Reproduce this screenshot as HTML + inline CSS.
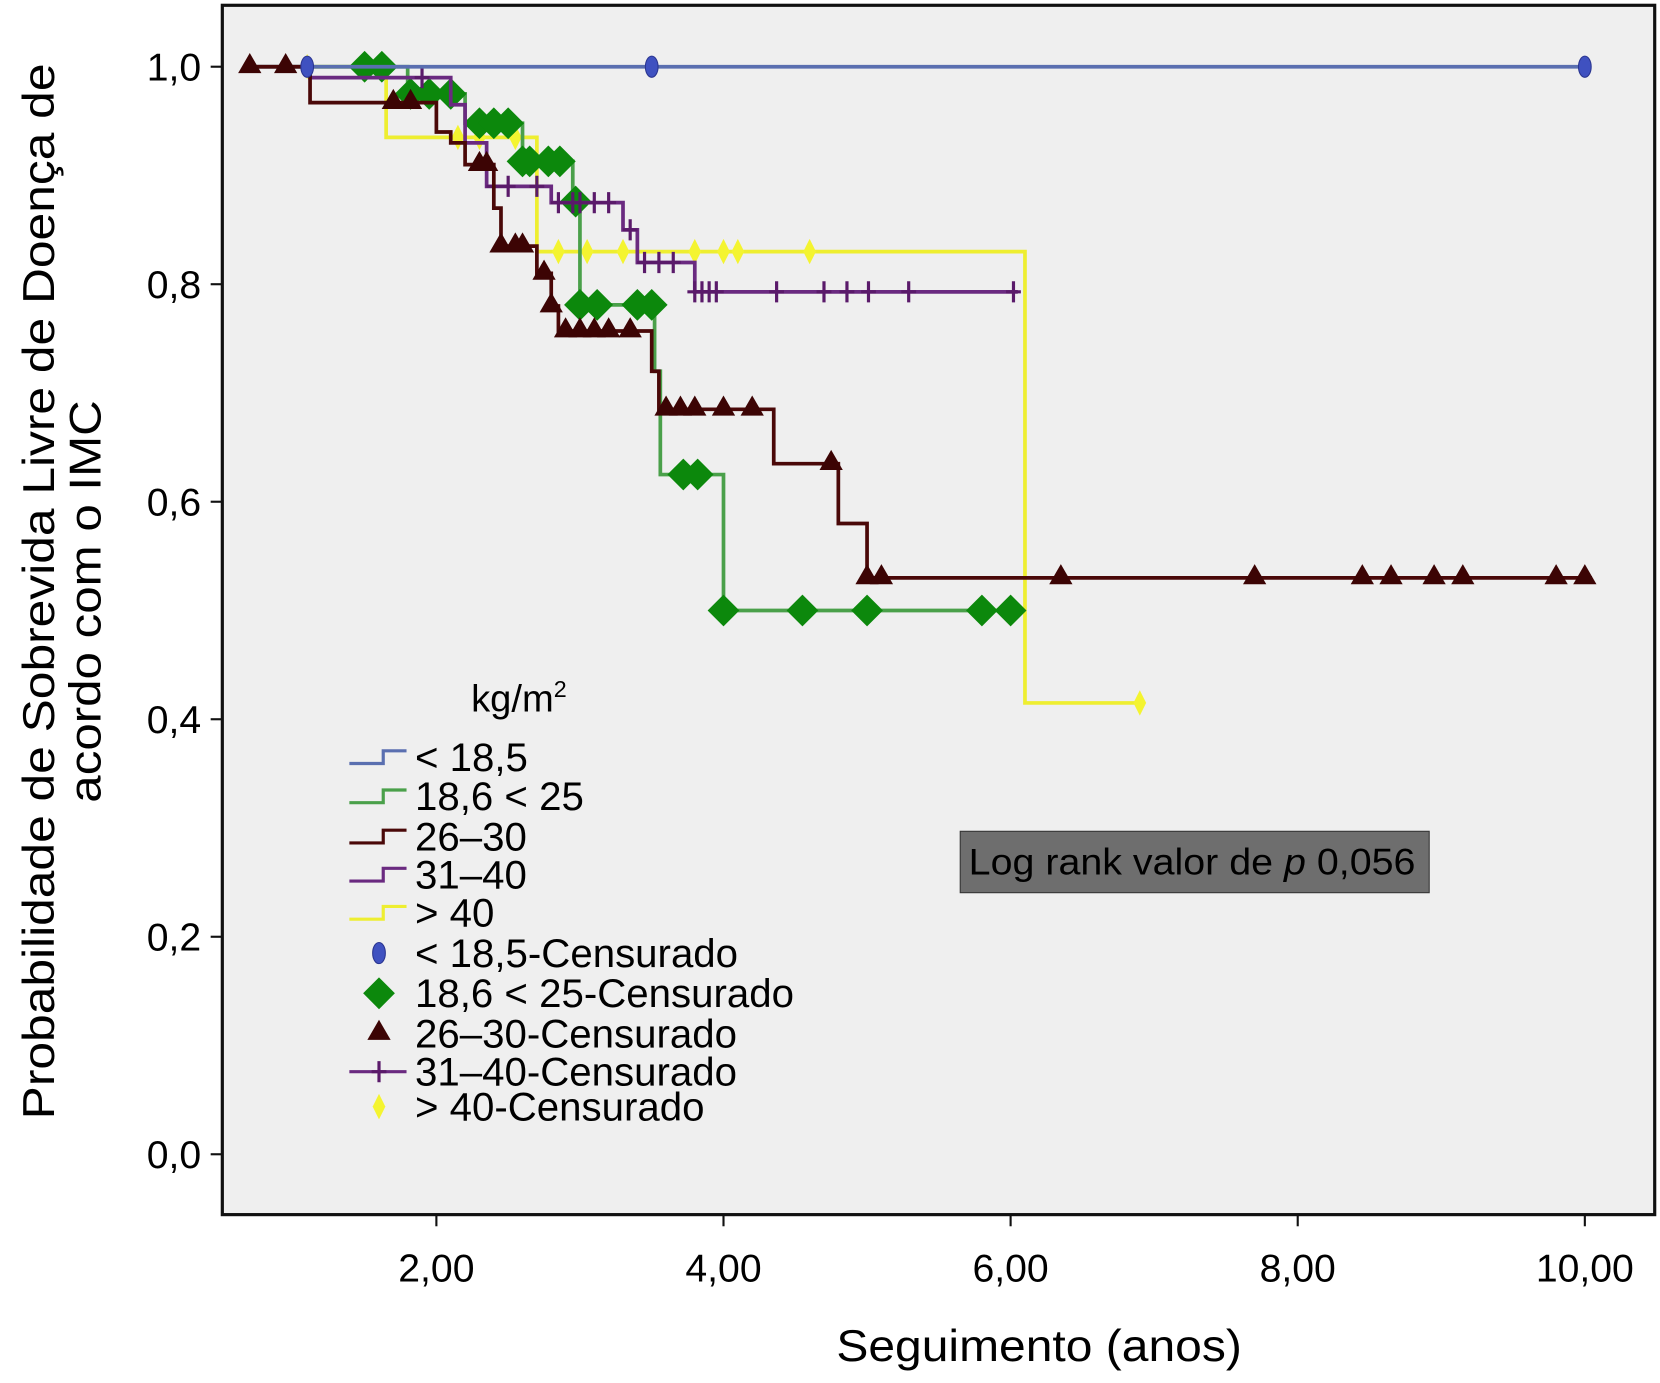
<!DOCTYPE html>
<html><head><meta charset="utf-8">
<style>html,body{margin:0;padding:0;background:#fff}svg{display:block}text{font-family:"Liberation Sans",sans-serif}</style>
</head><body>
<svg id="chart" width="1660" height="1383" viewBox="0 0 1568 1306" preserveAspectRatio="none" xmlns="http://www.w3.org/2000/svg">
<rect x="0" y="0" width="1568" height="1306" fill="#fff"/>
<rect x="210" y="5" width="1353" height="1142" fill="#efefef" stroke="#111" stroke-width="3"/>
<g id="axes"></g>
<g id="series"></g>
<text x="790" y="1285" font-size="42" textLength="383" lengthAdjust="spacingAndGlyphs">Seguimento (anos)</text>
<text transform="translate(40,1057) rotate(-90)" font-size="42" dominant-baseline="middle" textLength="997" lengthAdjust="spacingAndGlyphs">Probabilidade de Sobrevida Livre de Doença de</text>
<text transform="translate(84,758) rotate(-90)" font-size="42" dominant-baseline="middle" textLength="380" lengthAdjust="spacingAndGlyphs">acordo com o IMC</text>
<g>
<rect x="907" y="785" width="443" height="58" fill="#6e6e6e" stroke="#333"/>
<text x="915" y="826" font-size="35" textLength="422" lengthAdjust="spacingAndGlyphs">Log rank valor de <tspan font-style="italic">p</tspan> 0,056</text>
</g>
<g id="legend"></g>
</svg>
<script>
const xTicks=[2,4,6,8,10];
const xTickLabels=["2,00","4,00","6,00","8,00","10,00"];
const yTicks=[0,0.2,0.4,0.6,0.8,1.0];
const yTickLabels=["0,0","0,2","0,4","0,6","0,8","1,0"];
const seriesNames=["< 18,5","18,6 < 25","26–30","31–40","> 40"];
// step events: times and survival after each step
const blueT=[1.1,10.0];const blueS=[1.0,1.0];
const blueCens=[1.1,3.5,10.0];
const greenT=[0.75,1.8,2.2,2.6,2.95,3.0,3.52,3.56,4.0,6.0];
const greenS=[1.0,0.975,0.948,0.913,0.876,0.781,0.72,0.625,0.5,0.5];
const greenCens=[1.5,1.62,1.82,1.95,2.1,2.3,2.4,2.5,2.6,2.65,2.78,2.86,2.97,3.0,3.12,3.4,3.5,3.72,3.82,4.0,4.55,5.0,5.8,6.0];
const redT=[0.7,1.12,2.0,2.1,2.2,2.4,2.45,2.7,2.8,2.85,3.5,3.55,4.35,4.8,5.0,10.05];
const redS=[1.0,0.967,0.94,0.93,0.91,0.87,0.835,0.81,0.78,0.757,0.72,0.685,0.635,0.58,0.53,0.53];
const redCens=[0.7,0.95,1.7,1.82,2.3,2.35,2.45,2.55,2.6,2.75,2.8,2.9,3.0,3.1,3.2,3.35,3.6,3.7,3.8,4.0,4.2,4.75,5.0,5.1,6.35,7.7,8.45,8.65,8.95,9.15,9.8,10.0];
const purpleT=[0.7,1.12,2.1,2.2,2.35,2.8,3.3,3.4,3.8,6.05];
const purpleS=[1.0,0.99,0.965,0.93,0.89,0.875,0.85,0.82,0.793,0.793];
const purpleCens=[1.9,2.4,2.5,2.7,2.85,2.95,3.0,3.1,3.2,3.35,3.45,3.55,3.65,3.8,3.85,3.9,3.95,4.37,4.7,4.86,5.01,5.29,6.02];
const yellowT=[1.1,1.65,2.7,6.1,6.9];
const yellowS=[1.0,0.935,0.83,0.415,0.415];
const yellowCens=[1.1,2.15,2.3,2.55,2.85,3.05,3.3,3.8,4.0,4.1,4.6,6.9];

const NS="http://www.w3.org/2000/svg";
const X=t=>141+135.6*t;
const Y=v=>1090-1027*v;
function mk(tag,attrs,parent){const e=document.createElementNS(NS,tag);for(const k in attrs)e.setAttribute(k,attrs[k]);parent.appendChild(e);return e;}
const axes=document.getElementById('axes');
xTicks.forEach((t,i)=>{
 const l=mk('line',{x1:X(t),x2:X(t),y1:1147,y2:1158,stroke:'#111','stroke-width':2},axes);
 
 
 const tx=mk('text',{x:X(t),y:1210,'font-size':37,'text-anchor':'middle'},axes);tx.textContent=xTickLabels[i];
 
 
});
yTicks.forEach((v,i)=>{
 const l=mk('line',{x1:199,x2:210,y1:Y(v),y2:Y(v),stroke:'#111','stroke-width':2},axes);
 
 
 const tx=mk('text',{x:190,y:Y(v)+13,'font-size':37,'text-anchor':'end'},axes);tx.textContent=yTickLabels[i];
 
 
});
const ser=document.getElementById('series');
function stepPath(T,S){let d='M'+X(T[0])+','+Y(S[0]);for(let i=1;i<T.length;i++){d+=' H'+X(T[i])+' V'+Y(S[i]);}return d;}
function survAt(T,S,t){let s=S[0];for(let i=0;i<T.length;i++){if(T[i]<=t+1e-9)s=S[i];}return s;}
function marker(type,x,y,g,col){
 if(type==='ellipse')return mk('ellipse',{cx:x,cy:y,rx:6,ry:10,fill:'#3f51c0',stroke:'#2a3590'},g);
 if(type==='diamond')return mk('polygon',{points:`${x},${y-15} ${x+15},${y} ${x},${y+15} ${x-15},${y}`,fill:'#0c880c'},g);
 if(type==='tri')return mk('polygon',{points:`${x},${y-13} ${x+11},${y+6} ${x-11},${y+6}`,fill:'#3c0404'},g);
 if(type==='plus'){const p=mk('path',{d:`M${x},${y-10} V${y+10} M${x-7},${y} H${x+7}`,stroke:'#5a1a6a','stroke-width':3,fill:'none'},g);return p;}
 if(type==='ydiamond')return mk('polygon',{points:`${x},${y-12} ${x+6},${y} ${x},${y+12} ${x-6},${y}`,fill:'#f4f430'},g);
}
const defs=[
 ['series-lt-18-5',blueT,blueS,blueCens,'#5a6fb0','ellipse'],
 ['series-18-6-25',greenT,greenS,greenCens,'#4aa04a','diamond'],
 ['series-26-30',redT,redS,redCens,'#4a0808','tri'],
 ['series-31-40',purpleT,purpleS,purpleCens,'#6a2a80','plus'],
 ['series-gt-40',yellowT,yellowS,yellowCens,'#eeee30','ydiamond']
];
const order=[4,1,3,2,0];
order.forEach(k=>{
 const [name,T,S,C,col,mt]=defs[k];
 const g=mk('g',{},ser);
 
 
 const p=mk('path',{d:stepPath(T,S),fill:'none',stroke:col,'stroke-width':3.5},g);
 
 
 C.forEach(t=>{const m=marker(mt,X(t),Y(survAt(T,S,t)),g,col);
  
  });
});
// legend
const lg=document.getElementById('legend');
const kg=mk('text',{x:445,y:672,'font-size':36},lg);kg.innerHTML='kg/m<tspan font-size="22" dy="-14">2</tspan>';


const rows=[715,752,790,826,862];
defs.forEach((d,i)=>{
 const y=rows[i];
 const p=mk('path',{d:`M330,${y+6} H362 V${y-6} H384`,fill:'none',stroke:d[4],'stroke-width':3},lg);
 
 
 const t=mk('text',{x:392,y:y+13,'font-size':38},lg);t.textContent=seriesNames[i];
 
 
});
const crow=[900,938,976,1012,1045];
defs.forEach((d,i)=>{
 const y=crow[i];
 if(d[5]==='plus'){const l=mk('line',{x1:330,x2:384,y1:y,y2:y,stroke:d[4],'stroke-width':3},lg);}
 const m=marker(d[5],358,y,lg,d[4]);
 
 
 const t=mk('text',{x:392,y:y+13,'font-size':38},lg);t.textContent=seriesNames[i]+'-Censurado';
 
 
});
</script>
</body></html>
